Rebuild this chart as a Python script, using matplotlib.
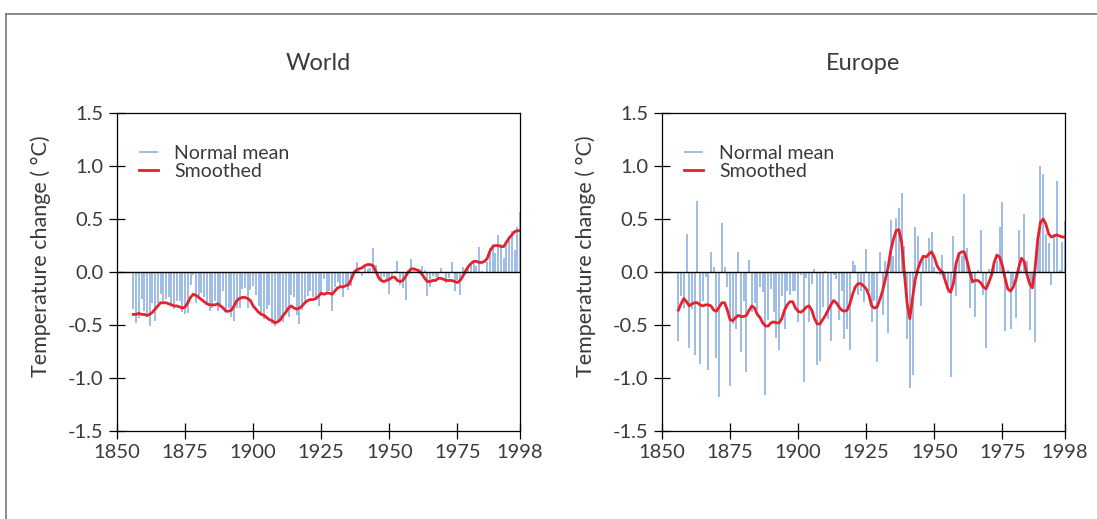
import matplotlib
matplotlib.use("Agg")
import matplotlib.pyplot as plt
import numpy as np

# years 1856-1998
years = np.arange(1856, 1999)

# annual anomalies
world_annual = [
    -0.35, -0.48, -0.43, -0.25, -0.37, -0.42, -0.51, -0.29, -0.46, -0.29,  # 1856-1865
    -0.21, -0.27, -0.25, -0.24, -0.32, -0.35, -0.27, -0.27, -0.38, -0.40,  # 1866-1875
    -0.39, -0.12, -0.03, -0.29, -0.24, -0.20, -0.24, -0.31, -0.37, -0.34,  # 1876-1885
    -0.27, -0.37, -0.30, -0.18, -0.37, -0.34, -0.42, -0.46, -0.34, -0.34,  # 1886-1895
    -0.16, -0.15, -0.34, -0.17, -0.13, -0.22, -0.32, -0.40, -0.44, -0.35,  # 1896-1905
    -0.31, -0.49, -0.51, -0.48, -0.44, -0.47, -0.39, -0.42, -0.22, -0.24,  # 1906-1915
    -0.41, -0.49, -0.36, -0.27, -0.23, -0.18, -0.24, -0.26, -0.32, -0.21,  # 1916-1925
    -0.07, -0.19, -0.18, -0.37, -0.14, -0.09, -0.15, -0.24, -0.13, -0.17,  # 1926-1935
    -0.13, 0.02, 0.09, 0.01, -0.04, 0.05, 0.03, 0.04, 0.23, 0.07,          # 1936-1945
    -0.06, -0.07, -0.05, -0.07, -0.21, -0.04, 0.01, 0.10, -0.12, -0.15,    # 1946-1955
    -0.26, 0.02, 0.12, 0.01, 0.00, 0.03, 0.06, 0.02, -0.23, -0.14,         # 1956-1965
    -0.04, -0.05, -0.06, 0.04, -0.01, -0.10, -0.06, 0.09, -0.18, -0.08,    # 1966-1975
    -0.22, 0.05, -0.02, 0.05, 0.08, 0.09, 0.06, 0.24, 0.01, 0.00,          # 1976-1985
    0.09, 0.23, 0.26, 0.18, 0.35, 0.26, 0.13, 0.28, 0.32, 0.39,            # 1986-1995
    0.21, 0.42, 0.57,                                                       # 1996-1998
]

world_smooth = [
    -0.40, -0.40, -0.39, -0.40, -0.40, -0.41, -0.40, -0.38, -0.35, -0.32,
    -0.29, -0.29, -0.29, -0.30, -0.31, -0.32, -0.32, -0.33, -0.34, -0.33,
    -0.29, -0.24, -0.21, -0.22, -0.24, -0.26, -0.28, -0.30, -0.31, -0.31,
    -0.31, -0.30, -0.32, -0.34, -0.37, -0.37, -0.36, -0.32, -0.27, -0.25,
    -0.24, -0.24, -0.25, -0.27, -0.32, -0.35, -0.38, -0.40, -0.41, -0.43,
    -0.45, -0.46, -0.48, -0.47, -0.45, -0.41, -0.38, -0.34, -0.32, -0.34,
    -0.35, -0.34, -0.32, -0.29, -0.27, -0.26, -0.26, -0.25, -0.23, -0.20,
    -0.21, -0.20, -0.20, -0.21, -0.18, -0.15, -0.14, -0.14, -0.13, -0.12,
    -0.07, -0.01, 0.02, 0.03, 0.04, 0.06, 0.07, 0.07, 0.06, 0.01,
    -0.05, -0.08, -0.09, -0.08, -0.07, -0.05, -0.05, -0.08, -0.09, -0.08,
    -0.04, 0.00, 0.03, 0.03, 0.02, 0.01, -0.02, -0.06, -0.09, -0.09,
    -0.08, -0.08, -0.06, -0.06, -0.07, -0.08, -0.08, -0.08, -0.09, -0.10,
    -0.08, -0.04, 0.01, 0.05, 0.08, 0.10, 0.10, 0.09, 0.09, 0.10,
    0.13, 0.20, 0.24, 0.25, 0.25, 0.24, 0.24, 0.28, 0.32, 0.35,
    0.38, 0.39, 0.39,
]

europe_annual = [
    -0.65, -0.23, -0.34, 0.36, -0.72, -0.35, -0.78, 0.67, -0.87, -0.27,   # 1856-1865
    -0.05, -0.92, 0.19, 0.05, -0.81, -1.18, 0.46, 0.05, -0.14, -1.08,     # 1866-1875
    -0.49, -0.54, 0.19, -0.75, -0.27, -0.94, 0.11, -0.38, -0.29, -0.36,   # 1876-1885
    -0.14, -0.19, -1.16, -0.45, -0.16, -0.38, -0.62, -0.74, -0.23, -0.54, # 1886-1895
    -0.18, -0.22, -0.18, -0.18, -0.47, -0.03, -1.04, -0.06, -0.47, -0.11, # 1896-1905
    0.03, -0.88, -0.84, -0.33, 0.01, -0.44, -0.65, -0.03, -0.07, -0.45,   # 1906-1915
    -0.18, -0.63, -0.54, -0.74, 0.10, 0.07, -0.22, -0.18, -0.28, 0.22,    # 1916-1925
    -0.19, -0.47, -0.27, -0.85, 0.19, -0.41, 0.10, -0.58, 0.49, 0.15,     # 1926-1935
    0.51, 0.60, 0.75, 0.25, -0.63, -1.09, -0.97, 0.42, 0.34, -0.32,       # 1936-1945
    0.15, 0.12, 0.32, 0.38, 0.05, -0.02, -0.03, 0.16, -0.05, -0.20,       # 1946-1955
    -0.99, 0.34, -0.23, 0.19, 0.15, 0.74, 0.23, -0.34, -0.11, -0.42,      # 1956-1965
    0.02, 0.40, -0.22, -0.72, 0.03, -0.03, 0.05, 0.10, 0.42, 0.66,        # 1966-1975
    -0.56, 0.02, -0.54, -0.11, -0.43, 0.40, 0.02, 0.55, 0.10, -0.55,      # 1976-1985
    -0.15, -0.66, 0.32, 1.00, 0.92, 0.36, 0.27, -0.12, 0.36, 0.86,        # 1986-1995
    0.02, 0.28, 0.48,                                                      # 1996-1998
]

europe_smooth = [
    -0.36, -0.30, -0.25, -0.28, -0.32, -0.30, -0.29, -0.29, -0.31, -0.32,
    -0.31, -0.31, -0.32, -0.36, -0.37, -0.33, -0.29, -0.29, -0.36, -0.45,
    -0.46, -0.43, -0.41, -0.42, -0.42, -0.41, -0.36, -0.32, -0.34, -0.40,
    -0.43, -0.48, -0.51, -0.51, -0.48, -0.47, -0.48, -0.48, -0.44, -0.36,
    -0.31, -0.28, -0.28, -0.34, -0.37, -0.38, -0.36, -0.33, -0.32, -0.36,
    -0.44, -0.49, -0.49, -0.45, -0.41, -0.36, -0.31, -0.27, -0.29, -0.33,
    -0.36, -0.37, -0.36, -0.30, -0.21, -0.14, -0.11, -0.11, -0.13, -0.16,
    -0.22, -0.32, -0.34, -0.33, -0.26, -0.18, -0.07, 0.04, 0.20, 0.31,
    0.39, 0.40, 0.28, 0.00, -0.29, -0.44, -0.25, -0.07, 0.03, 0.10,
    0.15, 0.14, 0.17, 0.19, 0.14, 0.06, 0.02, 0.00, -0.08, -0.16,
    -0.19, -0.11, 0.08, 0.17, 0.19, 0.19, 0.11, 0.00, -0.09, -0.08,
    -0.08, -0.10, -0.14, -0.16, -0.10, -0.03, 0.09, 0.16, 0.14, 0.06,
    -0.06, -0.16, -0.18, -0.14, -0.07, 0.04, 0.13, 0.10, -0.02, -0.11,
    -0.15, 0.03, 0.31, 0.47, 0.50, 0.45, 0.36, 0.33, 0.34, 0.35,
    0.34, 0.33, 0.33,
]

panels = [("World", world_annual, world_smooth, 117),
          ("Europe", europe_annual, europe_smooth, 662)]

plt.rcParams['font.family'] = ['Lato', 'DejaVu Sans']
text_col = '#3a3a3a'
bar_col = '#8db2e0'
red = '#e8202a'

fig = plt.figure(figsize=(10.97, 5.19), dpi=100)
W, H = 1097, 519

# outer frame (top and left edges)
fig.add_artist(plt.Line2D([5.5 / W, 1], [1 - 13.5 / H, 1 - 13.5 / H],
                          color='#777777', lw=1.2, transform=fig.transFigure))
fig.add_artist(plt.Line2D([5.5 / W, 5.5 / W], [0, 1 - 13.5 / H],
                          color='#777777', lw=1.2, transform=fig.transFigure))

for title, annual, smooth, left in panels:
    ax = fig.add_axes([left / W, 1 - 431 / H, 403 / W, 318 / H])
    ax.vlines(years, 0, annual, color=bar_col, lw=1.2, label='Normal mean')
    ax.plot(years, smooth, color=red, lw=2.0, label='Smoothed')
    ax.axhline(0, color='black', lw=1.0)

    ax.set_xlim(1850, 1998)
    ax.set_ylim(-1.5, 1.5)
    ax.set_xticks([1850, 1875, 1900, 1925, 1950, 1975, 1998])
    ax.set_yticks([-1.5, -1.0, -0.5, 0.0, 0.5, 1.0, 1.5])
    ax.set_yticklabels(['-1.5', '-1.0', '-0.5', '0.0', '0.5', '1.0', '1.5'])
    ax.tick_params(direction='inout', length=11, width=0.9, labelsize=14.5,
                   labelcolor=text_col, color='black')
    ax.tick_params(axis='y', pad=4)
    ax.tick_params(axis='x', pad=4)
    for s in ax.spines.values():
        s.set_linewidth(0.9)

    ax.set_ylabel('Temperature change ( °C)', fontsize=15.5, color=text_col)
    ax.yaxis.set_label_coords(-0.165, 0.55)
    ax.text(0.5, 1.157, title, transform=ax.transAxes, ha='center',
            va='center', fontsize=17, color=text_col)

    leg = ax.legend(loc='upper left', bbox_to_anchor=(0.035, 0.925),
                    frameon=False, fontsize=14, handlelength=1.0,
                    handletextpad=0.8, labelspacing=0.05, borderaxespad=0)
    for t in leg.get_texts():
        t.set_color(text_col)

fig.savefig('out.png', dpi=100)
